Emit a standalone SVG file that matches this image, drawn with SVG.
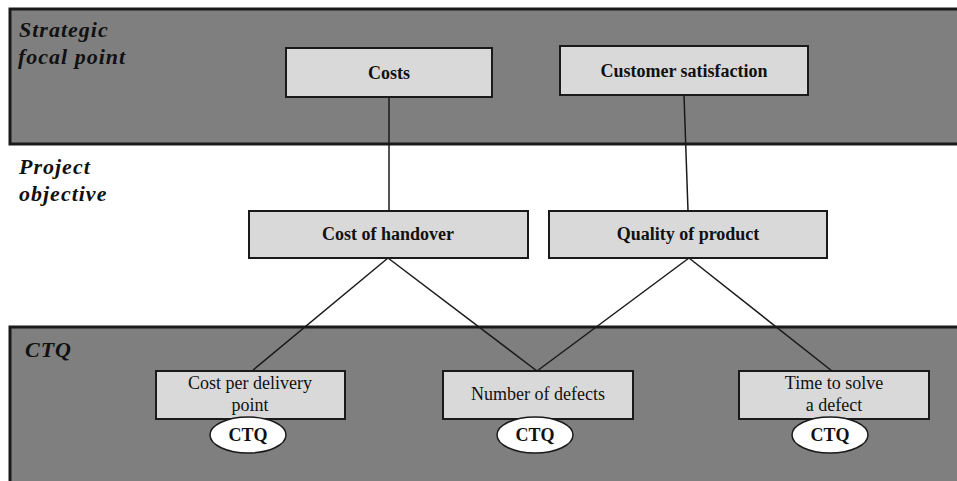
<svg xmlns="http://www.w3.org/2000/svg" width="957" height="481" viewBox="0 0 957 481">
<style>
.band{fill:#7f7f7f;stroke:#1a1a1a;stroke-width:3}
.box{fill:#d9d9d9;stroke:#1a1a1a;stroke-width:2}
.oval{fill:#ffffff;stroke:#1a1a1a;stroke-width:1.5}
text{font-family:'Liberation Serif','Times New Roman',Times,'DejaVu Serif',serif;fill:#111}
.sec{font-style:italic;font-weight:bold;font-size:22px;letter-spacing:1px}
.hb{font-weight:bold;font-size:18px;text-anchor:middle}
.hr{font-size:18px;text-anchor:middle}
.conn line{stroke:#1a1a1a;stroke-width:1.5}
</style>
<rect width="957" height="481" fill="#ffffff"/>
<rect class="band" x="10" y="9" width="960" height="135"/>
<rect class="band" x="10" y="327" width="960" height="170"/>
<text class="sec" x="19" y="37">Strategic</text>
<text class="sec" x="18" y="64">focal point</text>
<text class="sec" x="19" y="174">Project</text>
<text class="sec" x="19" y="201">objective</text>
<text class="sec" x="25" y="357">CTQ</text>
<g class="conn">
<line x1="389" y1="97" x2="389" y2="211"/>
<line x1="684" y1="95" x2="688" y2="211"/>
<line x1="388" y1="258" x2="252" y2="371"/>
<line x1="388" y1="258" x2="537" y2="371"/>
<line x1="689" y1="258" x2="537" y2="371"/>
<line x1="689" y1="258" x2="832" y2="371"/>
</g>
<g id="costs"><rect class="box" x="286" y="48" width="206" height="49"/><text class="hb" x="389" y="79">Costs</text></g>
<g id="customer-satisfaction"><rect class="box" x="560" y="46" width="248" height="49"/><text class="hb" x="684" y="77">Customer satisfaction</text></g>
<g id="cost-of-handover"><rect class="box" x="249" y="211" width="279" height="47"/><text class="hb" x="388" y="240">Cost of handover</text></g>
<g id="quality-of-product"><rect class="box" x="549" y="211" width="278" height="47"/><text class="hb" x="688" y="240">Quality of product</text></g>
<g id="cost-per-delivery-point"><rect class="box" x="156" y="371" width="189" height="48"/><text class="hr" x="250" y="389">Cost per delivery</text><text class="hr" x="250" y="411">point</text></g>
<g id="number-of-defects"><rect class="box" x="443" y="371" width="190" height="48"/><text class="hr" x="538" y="400">Number of defects</text></g>
<g id="time-to-solve"><rect class="box" x="739" y="371" width="190" height="48"/><text class="hr" x="834" y="389">Time to solve</text><text class="hr" x="834" y="411">a defect</text></g>
<g id="ctq1"><ellipse class="oval" cx="248" cy="435" rx="38" ry="18"/><text class="hb" x="248" y="441">CTQ</text></g>
<g id="ctq2"><ellipse class="oval" cx="535" cy="435" rx="38" ry="18"/><text class="hb" x="535" y="441">CTQ</text></g>
<g id="ctq3"><ellipse class="oval" cx="830" cy="435" rx="38" ry="18"/><text class="hb" x="830" y="441">CTQ</text></g>
</svg>
